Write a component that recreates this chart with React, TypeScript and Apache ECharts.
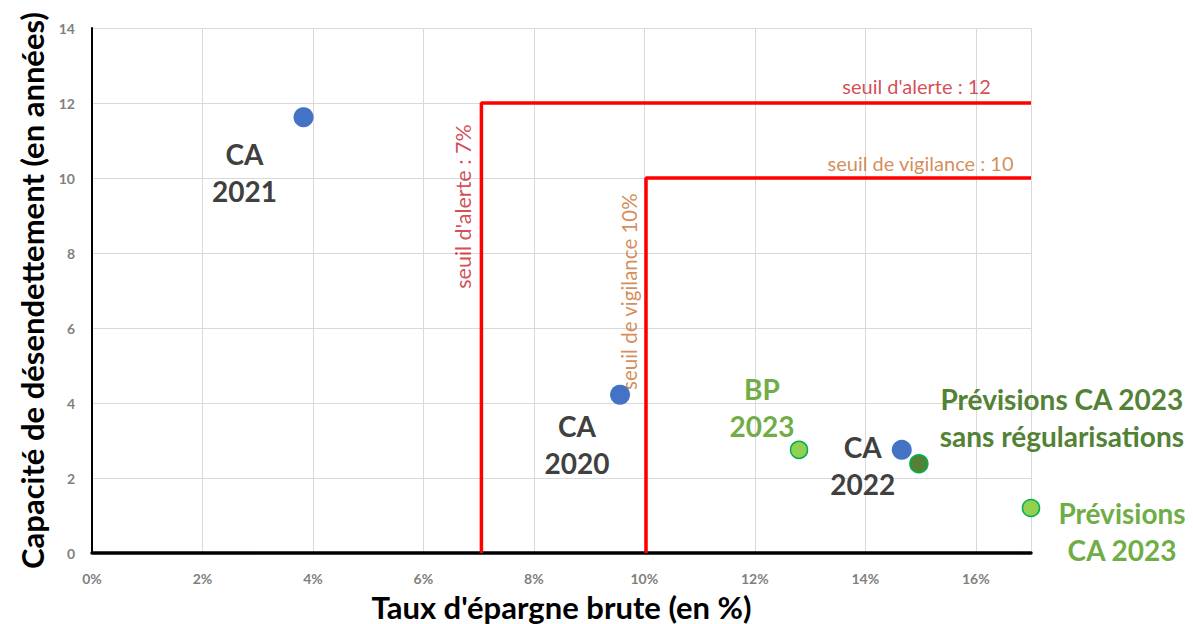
import React, { useEffect, useRef } from "react";
import * as echarts from "echarts";

const pointNames = [
  "CA\n2021",
  "CA\n2020",
  "CA\n2022",
  "BP\n2023",
  "Prévisions CA 2023\nsans régularisations",
  "Prévisions\nCA 2023",
];
const tauxEpargne = [3.83, 9.56, 14.66, 12.8, 14.97, 17.0];
const capacite = [11.62, 4.22, 2.75, 2.75, 2.38, 1.2];

const seuilAlerteTaux = 7.05;
const seuilAlerteCapacite = 12;
const seuilVigilanceTaux = 10.03;
const seuilVigilanceCapacite = 10;
const xMax = 17;
const yMax = 14;

const seuilLabels = [
  "seuil d'alerte : 12",
  "seuil de vigilance : 10",
  "seuil d'alerte : 7%",
  "seuil de vigilance 10%",
];

// styles
const pointStyles = [
  { fill: "#4472C4", border: "#4472C4", size: 20, text: "#404040", offset: [-59, 55] },
  { fill: "#4472C4", border: "#4472C4", size: 20, text: "#404040", offset: [-43, 50] },
  { fill: "#4472C4", border: "#4472C4", size: 20, text: "#404040", offset: [-39, 16] },
  { fill: "#92D050", border: "#00B050", size: 17, text: "#70AD47", offset: [-37, -42] },
  { fill: "#548235", border: "#00B050", size: 18, text: "#548235", offset: [143, -46] },
  { fill: "#92D050", border: "#00B050", size: 17, text: "#70AD47", offset: [91, 23] },
];

const RED = "#FF0000";
const ALERT_TEXT = "#C8202C";
const VIG_TEXT = "#C8702F";
const FONT = "Lato, 'Open Sans', sans-serif";

export default function App() {
  const ref = useRef<HTMLDivElement>(null);
  useEffect(() => {
    if (!ref.current) return;
    const chart = echarts.init(ref.current, null, { renderer: "svg" });
    const points = pointNames.map((name, i) => ({
      name,
      value: [tauxEpargne[i], capacite[i]],
      symbolSize: pointStyles[i].size,
      itemStyle: {
        color: pointStyles[i].fill,
        opacity: 1,
        borderColor: pointStyles[i].border,
        borderWidth: pointStyles[i].fill === pointStyles[i].border ? 0 : 1.5,
      },
      label: {
        show: true,
        formatter: name,
        position: "inside",
        offset: pointStyles[i].offset,
        color: pointStyles[i].text,
        fontFamily: FONT,
        fontWeight: "bold",
        fontSize: 28,
        lineHeight: 37,
        align: "center",
        verticalAlign: "middle",
      },
    }));

    const textLabel = (
      text: string,
      x: number,
      y: number,
      color: string,
      rotate: number,
      size: number
    ) => ({
      value: [x, y],
      symbolSize: 0,
      label: {
        show: true,
        formatter: text,
        position: "inside",
        rotate,
        color,
        fontFamily: FONT,
        fontSize: size,
        align: "center",
        verticalAlign: "middle",
      },
    });

    chart.setOption({
      animation: false,
      grid: {
        left: 92,
        right: 162,
        top: 28,
        bottom: 71,
        containLabel: false,
        outerBoundsMode: "none",
      },
      xAxis: {
        type: "value",
        min: 0,
        max: xMax,
        interval: 2,
        name: "Taux d'épargne brute (en %)",
        nameLocation: "middle",
        nameGap: 38,
        nameTextStyle: {
          fontFamily: FONT,
          fontWeight: "bold",
          fontSize: 31,
          color: "#000",
        },
        axisLine: { show: true, onZero: false, lineStyle: { color: "#000", width: 3.5 } },
        axisTick: { show: false },
        axisLabel: {
          margin: 18,
          color: "#7F7F7F",
          fontFamily: FONT,
          fontWeight: "bold",
          fontSize: 14,
          showMaxLabel: false,
          formatter: (v: number) => (v > 16 ? "" : `${v}%`),
        },
        splitLine: { show: true, lineStyle: { color: "#D9D9D9", width: 1 } },
      },
      yAxis: {
        type: "value",
        min: 0,
        max: yMax,
        interval: 2,
        name: "Capacité de désendettement (en années)",
        nameLocation: "middle",
        nameGap: 42,
        nameTextStyle: {
          fontFamily: FONT,
          fontWeight: "bold",
          fontSize: 31,
          color: "#000",
        },
        axisLine: { show: true, lineStyle: { color: "#000", width: 2 } },
        axisTick: { show: false },
        axisLabel: {
          margin: 17,
          color: "#7F7F7F",
          fontFamily: FONT,
          fontWeight: "bold",
          fontSize: 14,
        },
        splitLine: { show: true, lineStyle: { color: "#D9D9D9", width: 1 } },
      },
      series: [
        {
          type: "line",
          name: "Seuil d'alerte",
          data: [
            [seuilAlerteTaux, 0],
            [seuilAlerteTaux, seuilAlerteCapacite],
            [xMax, seuilAlerteCapacite],
          ],
          symbol: "none",
          clip: false,
          lineStyle: { color: RED, width: 3.5 },
          z: 3,
        },
        {
          type: "line",
          name: "Seuil de vigilance",
          data: [
            [seuilVigilanceTaux, 0],
            [seuilVigilanceTaux, seuilVigilanceCapacite],
            [xMax, seuilVigilanceCapacite],
          ],
          symbol: "none",
          clip: false,
          lineStyle: { color: RED, width: 3.5 },
          z: 3,
        },
        {
          type: "scatter",
          name: "labels",
          clip: false,
          silent: true,
          z: 4,
          data: [
            textLabel(seuilLabels[0], 14.93, 12.45, ALERT_TEXT, 0, 20),
            textLabel(seuilLabels[1], 15.0, 10.4, VIG_TEXT, 0, 20),
            textLabel(seuilLabels[2], 6.72, 9.24, ALERT_TEXT, 90, 21.5),
            textLabel(seuilLabels[3], 9.72, 6.97, VIG_TEXT, 90, 20.5),
          ],
        },
        {
          type: "scatter",
          name: "points",
          clip: false,
          z: 5,
          data: points,
        },
      ],
    });
    return () => chart.dispose();
  }, []);
  return (
    <div
      ref={ref}
      style={{ position: "fixed", left: 0, top: 0, width: 1193, height: 624, background: "#fff" }}
    />
  );
}
